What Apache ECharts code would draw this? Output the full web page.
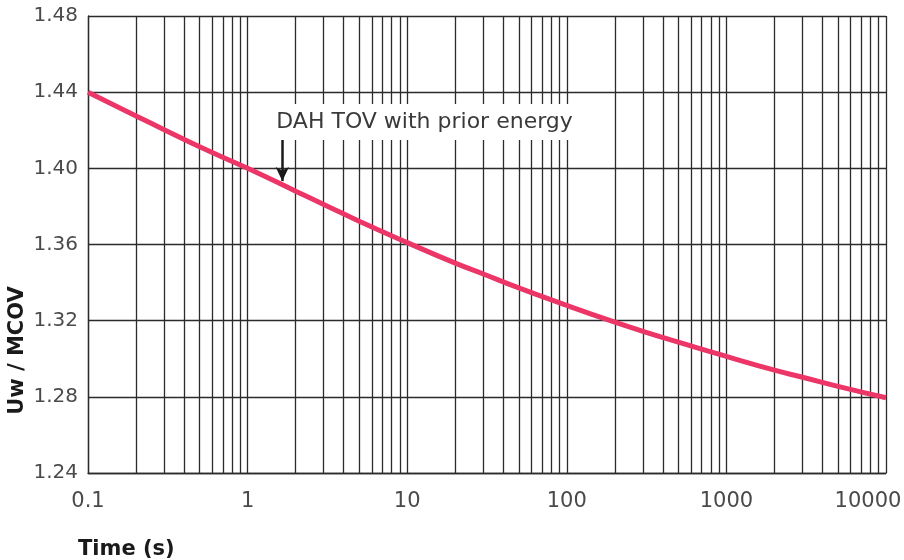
<!DOCTYPE html>
<html>
<head>
<meta charset="utf-8">
<script src="https://cdn.jsdelivr.net/npm/echarts@6/dist/echarts.min.js"></script>
<style>
  html, body { margin: 0; padding: 0; background: #ffffff; }
  #chart { width: 904px; height: 560px; }
</style>
</head>
<body>
<div id="chart"></div>
<script>
// Time to withstand (s) and the Uw / MCOV ratio along the DAH TOV curve
const timeS = [0.1, 0.2, 0.3, 0.5, 1, 2, 3, 5, 10, 20, 30, 50, 100, 200, 300, 500, 1000, 2000, 3000, 5000, 10000];
const ratio = [1.440, 1.4275, 1.4203, 1.4113, 1.400, 1.3880, 1.3810, 1.3722, 1.361, 1.3502, 1.3445, 1.3372, 1.328, 1.3192, 1.3144, 1.3087, 1.3012, 1.2940, 1.2903, 1.2855, 1.2795];

// Axis ticks
const xDecades = [0.1, 1, 10, 100, 1000, 10000];
const xTickLabels = ['0.1', '1', '10', '100', '1000', '10000'];
const yTicks = [1.24, 1.28, 1.32, 1.36, 1.40, 1.44, 1.48];

// Annotation
const noteText = 'DAH TOV with prior energy';
const noteTime = 1.65;
const noteBoxRatio = 1.4243;
const arrowFrom = 1.4153;
const arrowTo = 1.3933;

const inkColor = '#2b2b2b';
const labelFont = 'DejaVu Sans';

// Minor vertical grid lines at 2..9 within each decade
const minorLines = [];
for (let d = 0; d < xDecades.length - 1; d++) {
  for (let m = 2; m <= 9; m++) {
    minorLines.push({ xAxis: +(xDecades[d] * m).toPrecision(6) });
  }
}

const chart = echarts.init(document.getElementById('chart'), null, { renderer: 'canvas' });

chart.setOption({
  animation: false,
  backgroundColor: '#ffffff',
  grid: { left: 88, right: 18, top: 16, bottom: 87, containLabel: false, outerBoundsMode: 'none' },
  xAxis: {
    type: 'log',
    logBase: 10,
    min: xDecades[0],
    max: xDecades[xDecades.length - 1],
    name: 'Time (s)',
    nameLocation: 'start',
    nameGap: 10,
    nameMoveOverlap: false,
    nameTextStyle: {
      fontFamily: labelFont, fontWeight: 'bold', fontSize: 21, color: '#1a1a1a',
      align: 'left', verticalAlign: 'top', padding: [66, 0, 0, 0]
    },
    axisLine: { show: true, lineStyle: { color: inkColor, width: 1.3 } },
    axisTick: { show: false },
    axisLabel: {
      margin: 18,
      fontFamily: labelFont, fontSize: 21, color: '#4a4a4a',
      formatter: function (v) {
        const i = xDecades.findIndex(d => Math.abs(Math.log10(d) - Math.log10(v)) < 1e-6);
        const txt = i >= 0 ? xTickLabels[i] : String(v);
        return i === xDecades.length - 1 ? '{last|' + txt + '}' : txt;
      },
      rich: {
        last: { fontFamily: labelFont, fontSize: 21, color: '#4a4a4a', padding: [0, 36, 0, 0] }
      }
    },
    splitLine: { show: true, lineStyle: { color: inkColor, width: 1.3 } }
  },
  yAxis: {
    type: 'value',
    min: yTicks[0],
    max: yTicks[yTicks.length - 1],
    interval: 0.04,
    name: 'Uw / MCOV',
    nameLocation: 'middle',
    nameRotate: 90,
    nameGap: 60,
    nameMoveOverlap: false,
    nameTextStyle: {
      fontFamily: labelFont, fontWeight: 'bold', fontSize: 21, color: '#1a1a1a',
      padding: [0, 212, 0, 0]
    },
    axisLine: { show: true, lineStyle: { color: inkColor, width: 1.3 } },
    axisTick: { show: false },
    axisLabel: {
      margin: 10,
      fontFamily: labelFont, fontSize: 20, color: '#4a4a4a',
      padding: [4, 0, 0, 0],
      formatter: v => v.toFixed(2)
    },
    splitLine: { show: true, lineStyle: { color: inkColor, width: 1.3 } }
  },
  series: [
    {
      // minor decade grid
      type: 'line',
      data: [],
      z: 1,
      silent: true,
      markLine: {
        silent: true,
        symbol: ['none', 'none'],
        label: { show: false },
        lineStyle: { color: inkColor, width: 1.3, type: 'solid' },
        emphasis: { disabled: true },
        data: minorLines
      }
    },
    {
      name: 'DAH TOV with prior energy',
      type: 'line',
      z: 5,
      data: timeS.map((t, i) => [t, ratio[i]]),
      smooth: 0.5,
      showSymbol: false,
      lineStyle: { color: '#ec3668', width: 5 },
      itemStyle: { color: '#ec3668' },
      markPoint: {
        silent: true,
        symbol: 'rect',
        symbolSize: 0,
        data: [{ coord: [noteTime, noteBoxRatio] }],
        label: {
          show: true,
          formatter: noteText,
          position: [-14, -18],
          align: 'left',
          verticalAlign: 'top',
          backgroundColor: '#ffffff',
          padding: [6, 8, 6, 8],
          fontFamily: labelFont,
          fontSize: 22,
          lineHeight: 24,
          color: '#3a3a3a'
        }
      },
      markLine: {
        silent: true,
        symbol: ['none', 'arrow'],
        symbolSize: [10, 14],
        label: { show: false },
        lineStyle: { color: '#1a1a1a', width: 2.5, type: 'solid' },
        data: [[{ coord: [noteTime, arrowFrom] }, { coord: [noteTime, arrowTo] }]]
      }
    }
  ]
});
</script>
</body>
</html>
